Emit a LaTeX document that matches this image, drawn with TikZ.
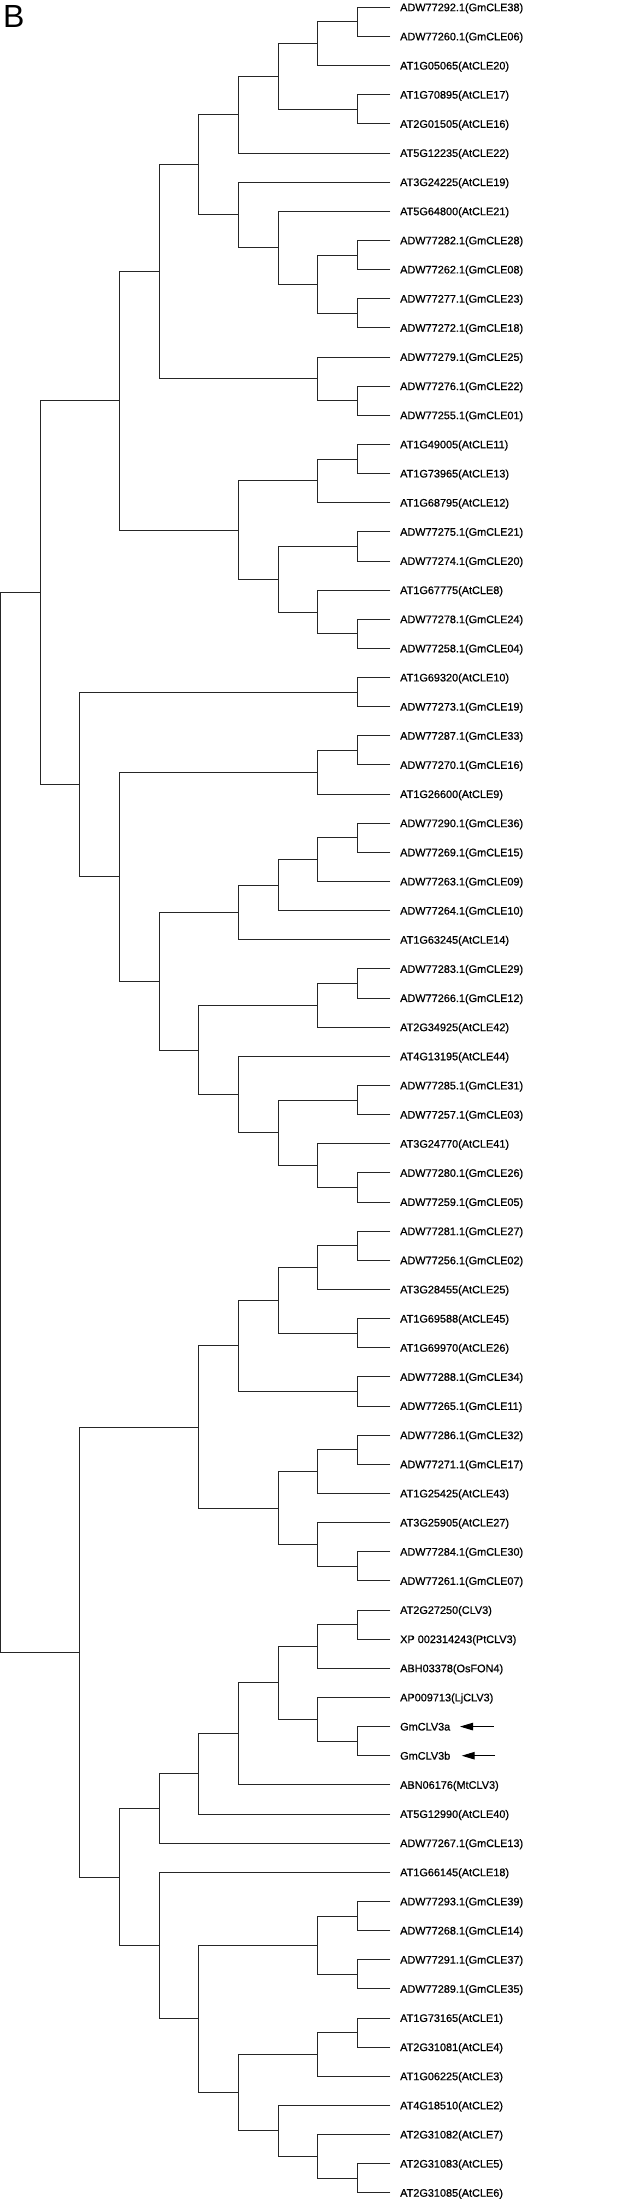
\documentclass[tikz,border=0pt]{standalone}
\usepackage{fontspec}
\setmainfont{Liberation Sans}
\newfontfamily\labfont[FakeBold=0.7]{Liberation Sans}
\usetikzlibrary{calc,arrows.meta}
\newcommand{\mkclade}[4]{%
  \path let \p1=(#3), \p2=(#4) in coordinate (#1) at ({0.7pt+39.62pt*#2}, {0.5*\y1+0.5*\y2});
  \draw[br] (#3) -| (#1) |- (#4);
}
\begin{document}
\begin{tikzpicture}[
  br/.style={line width=0.9pt, draw=black!85, line join=miter, line cap=rect},
  leaflab/.style={anchor=base west, inner sep=0pt, font=\labfont\fontsize{10.9}{12}\selectfont, text=black},
  marker/.style={line width=1pt, draw=black, -{Triangle[length=13pt,width=7.5pt]}},
  panel/.style={anchor=base west, inner sep=0pt, font=\fontsize{32}{34}\selectfont}
]
\useasboundingbox (0pt,0pt) rectangle (641pt,-2199pt);
\node[panel] (panelB) at (3pt,-28pt) {B};
\foreach \lab [count=\i] in {
{ADW77292.1(GmCLE38)},{ADW77260.1(GmCLE06)},{AT1G05065(AtCLE20)},{AT1G70895(AtCLE17)},
{AT2G01505(AtCLE16)},{AT5G12235(AtCLE22)},{AT3G24225(AtCLE19)},{AT5G64800(AtCLE21)},
{ADW77282.1(GmCLE28)},{ADW77262.1(GmCLE08)},{ADW77277.1(GmCLE23)},{ADW77272.1(GmCLE18)},
{ADW77279.1(GmCLE25)},{ADW77276.1(GmCLE22)},{ADW77255.1(GmCLE01)},{AT1G49005(AtCLE11)},
{AT1G73965(AtCLE13)},{AT1G68795(AtCLE12)},{ADW77275.1(GmCLE21)},{ADW77274.1(GmCLE20)},
{AT1G67775(AtCLE8)},{ADW77278.1(GmCLE24)},{ADW77258.1(GmCLE04)},{AT1G69320(AtCLE10)},
{ADW77273.1(GmCLE19)},{ADW77287.1(GmCLE33)},{ADW77270.1(GmCLE16)},{AT1G26600(AtCLE9)},
{ADW77290.1(GmCLE36)},{ADW77269.1(GmCLE15)},{ADW77263.1(GmCLE09)},{ADW77264.1(GmCLE10)},
{AT1G63245(AtCLE14)},{ADW77283.1(GmCLE29)},{ADW77266.1(GmCLE12)},{AT2G34925(AtCLE42)},
{AT4G13195(AtCLE44)},{ADW77285.1(GmCLE31)},{ADW77257.1(GmCLE03)},{AT3G24770(AtCLE41)},
{ADW77280.1(GmCLE26)},{ADW77259.1(GmCLE05)},{ADW77281.1(GmCLE27)},{ADW77256.1(GmCLE02)},
{AT3G28455(AtCLE25)},{AT1G69588(AtCLE45)},{AT1G69970(AtCLE26)},{ADW77288.1(GmCLE34)},
{ADW77265.1(GmCLE11)},{ADW77286.1(GmCLE32)},{ADW77271.1(GmCLE17)},{AT1G25425(AtCLE43)},
{AT3G25905(AtCLE27)},{ADW77284.1(GmCLE30)},{ADW77261.1(GmCLE07)},{AT2G27250(CLV3)},
{XP 002314243(PtCLV3)},{ABH03378(OsFON4)},{AP009713(LjCLV3)},{GmCLV3a},
{GmCLV3b},{ABN06176(MtCLV3)},{AT5G12990(AtCLE40)},{ADW77267.1(GmCLE13)},
{AT1G66145(AtCLE18)},{ADW77293.1(GmCLE39)},{ADW77268.1(GmCLE14)},{ADW77291.1(GmCLE37)},
{ADW77289.1(GmCLE35)},{AT1G73165(AtCLE1)},{AT2G31081(AtCLE4)},{AT1G06225(AtCLE3)},
{AT4G18510(AtCLE2)},{AT2G31082(AtCLE7)},{AT2G31083(AtCLE5)},{AT2G31085(AtCLE6)}}{
  \pgfmathsetmacro\yy{7.3+(\i-1)*29.14}
  \coordinate (l\i) at (390pt,-\yy pt);
  \node[leaflab] (t\i) at (400pt,{-(\yy+3.9)*1pt}) {\lab};
}
% upper major clade
\mkclade{A1}{9}{l1}{l2}
\mkclade{A2}{8}{A1}{l3}
\mkclade{A3}{9}{l4}{l5}
\mkclade{A4}{7}{A2}{A3}
\mkclade{A5}{6}{A4}{l6}
\mkclade{E}{9}{l9}{l10}
\mkclade{F}{9}{l11}{l12}
\mkclade{D}{8}{E}{F}
\mkclade{C}{7}{l8}{D}
\mkclade{B}{6}{l7}{C}
\mkclade{A6}{5}{A5}{B}
\mkclade{H}{9}{l14}{l15}
\mkclade{G}{8}{l13}{H}
\mkclade{A7}{4}{A6}{G}
\mkclade{Lc}{9}{l16}{l17}
\mkclade{J}{8}{Lc}{l18}
\mkclade{M}{9}{l19}{l20}
\mkclade{O}{9}{l22}{l23}
\mkclade{N}{8}{l21}{O}
\mkclade{K}{7}{M}{N}
\mkclade{I}{6}{J}{K}
\mkclade{A8}{3}{A7}{I}
\mkclade{Q}{9}{l24}{l25}
\mkclade{U}{9}{l26}{l27}
\mkclade{T}{8}{U}{l28}
\mkclade{Z}{9}{l29}{l30}
\mkclade{Y}{8}{Z}{l31}
\mkclade{X}{7}{Y}{l32}
\mkclade{W}{6}{X}{l33}
\mkclade{AC}{9}{l34}{l35}
\mkclade{AB}{8}{AC}{l36}
\mkclade{AF}{9}{l38}{l39}
\mkclade{AH}{9}{l41}{l42}
\mkclade{AG}{8}{l40}{AH}
\mkclade{AE}{7}{AF}{AG}
\mkclade{AD}{6}{l37}{AE}
\mkclade{AA}{5}{AB}{AD}
\mkclade{V}{4}{W}{AA}
\mkclade{S}{3}{T}{V}
\mkclade{P}{2}{Q}{S}
\mkclade{R1}{1}{A8}{P}
% lower major clade
\mkclade{BE}{9}{l43}{l44}
\mkclade{BD}{8}{BE}{l45}
\mkclade{BF}{9}{l46}{l47}
\mkclade{BC}{7}{BD}{BF}
\mkclade{BG}{9}{l48}{l49}
\mkclade{BB}{6}{BC}{BG}
\mkclade{BJ}{9}{l50}{l51}
\mkclade{BI}{8}{BJ}{l52}
\mkclade{BL}{9}{l54}{l55}
\mkclade{BK}{8}{l53}{BL}
\mkclade{BH}{7}{BI}{BK}
\mkclade{BA}{5}{BB}{BH}
\mkclade{CG}{9}{l56}{l57}
\mkclade{CF}{8}{CG}{l58}
\mkclade{CI}{9}{l60}{l61}
\mkclade{CH}{8}{l59}{CI}
\mkclade{CE}{7}{CF}{CH}
\mkclade{CD}{6}{CE}{l62}
\mkclade{CC}{5}{CD}{l63}
\mkclade{CB}{4}{CC}{l64}
\mkclade{CM}{9}{l66}{l67}
\mkclade{CN}{9}{l68}{l69}
\mkclade{CL}{8}{CM}{CN}
\mkclade{CQ}{9}{l70}{l71}
\mkclade{CP}{8}{CQ}{l72}
\mkclade{CT}{9}{l75}{l76}
\mkclade{CS}{8}{l74}{CT}
\mkclade{CR}{7}{l73}{CS}
\mkclade{CO}{6}{CP}{CR}
\mkclade{CK}{5}{CL}{CO}
\mkclade{CJ}{4}{l65}{CK}
\mkclade{CA}{3}{CB}{CJ}
\mkclade{R2}{2}{BA}{CA}
\mkclade{root}{0}{R1}{R2}
% arrows pointing at GmCLV3a / GmCLV3b
\coordinate (a1s) at (493.5pt,0pt |- l60);
\coordinate (a1e) at (460pt,0pt |- l60);
\coordinate (a2s) at (495pt,0pt |- l61);
\coordinate (a2e) at (461.7pt,0pt |- l61);
\draw[marker] (a1s) -- (a1e);
\draw[marker] (a2s) -- (a2e);
\end{tikzpicture}
\end{document}
